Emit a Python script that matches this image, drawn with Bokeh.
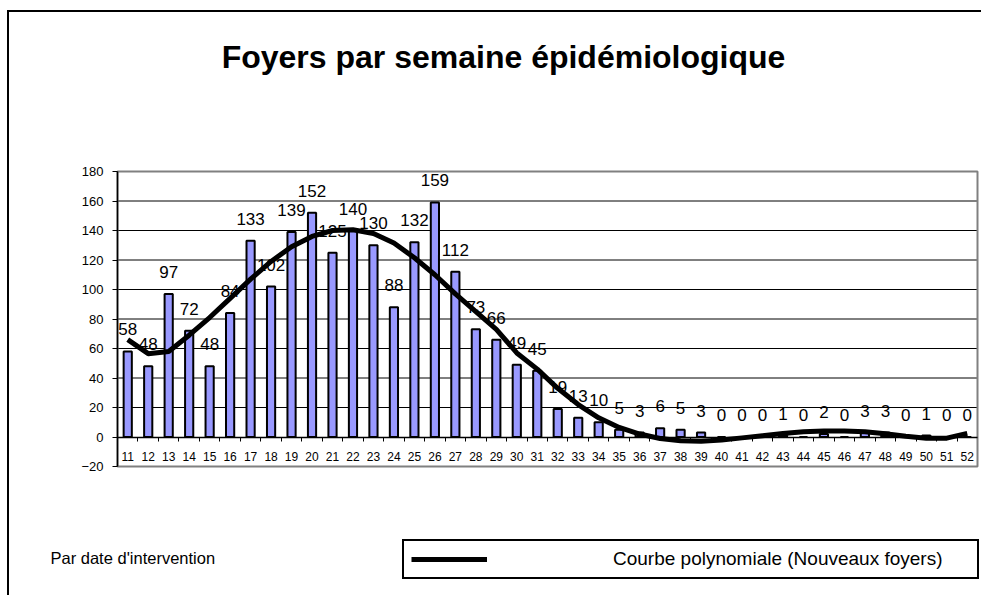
from bokeh.plotting import figure
from bokeh.models import FixedTicker, Legend, LegendItem, ColumnDataSource, Range1d, Label
from bokeh.core.properties import value
from bokeh.embed import file_html
from bokeh.resources import INLINE

# ---- data ----
weeks = [11, 12, 13, 14, 15, 16, 17, 18, 19, 20, 21, 22, 23, 24, 25, 26, 27, 28, 29, 30, 31,
         32, 33, 34, 35, 36, 37, 38, 39, 40, 41, 42, 43, 44, 45, 46, 47, 48, 49, 50, 51, 52]
new_foci = [58, 48, 97, 72, 48, 84, 133, 102, 139, 152, 125, 140, 130, 88, 132, 159, 112, 73, 66, 49, 45,
            19, 13, 10, 5, 3, 6, 5, 3, 0, 0, 0, 1, 0, 2, 0, 3, 3, 0, 1, 0, 0]
# polynomial trend curve at each week
trend = [66, 56.5, 58, 69, 81, 94, 107, 119, 129, 136, 140, 140.5, 138, 131.5, 121.5, 110, 97, 85, 73, 57, 46,
         33, 22, 13, 6.5, 2, -1, -2.5, -2.8, -2, -0.6, 0.8, 2.3, 3.5, 4, 4, 3.5, 2.2, 0.5, -0.8, -0.8, 2.5]
y_ticks = [-20, 0, 20, 40, 60, 80, 100, 120, 140, 160, 180]

title_text = "Foyers par semaine épidémiologique"
note_text = "Par date d'intervention"
legend_text = "Courbe polynomiale (Nouveaux foyers)"

FONT = "Liberation Sans"

# ---- layout (pixels) ----
W, H = 972, 583                 # canvas = frame
PA_L, PA_R, PA_T, PA_B = 108, 4, 159, 129   # margins of the plot area inside the frame
x_lo, x_hi = weeks[0] - 0.5, weeks[-1] + 0.5
y_lo, y_hi = y_ticks[0], y_ticks[-1]
ppx = (W - PA_L - PA_R) / (x_hi - x_lo)
ppy = (H - PA_T - PA_B) / (y_hi - y_lo)

src = ColumnDataSource(dict(week=weeks, n=new_foci, lab=[str(v) for v in new_foci]))
tsrc = ColumnDataSource(dict(week=weeks, t=trend))
gsrc = ColumnDataSource(dict(y=y_ticks[2:-1]))

p = figure(frame_width=W, frame_height=H,
           x_range=Range1d(x_lo - PA_L / ppx, x_hi + PA_R / ppx),
           y_range=Range1d(y_lo - PA_B / ppy, y_hi + PA_T / ppy),
           output_backend="svg", toolbar_location=None,
           min_border_left=0, min_border_right=0, min_border_top=0, min_border_bottom=0)
p.styles = {"border-left": "2px solid black", "border-top": "2px solid black",
            "margin-top": "10px", "margin-left": "7px"}

p.background_fill_color = "white"
p.border_fill_color = "white"
p.outline_line_color = None
p.xgrid.visible = False
p.ygrid.visible = False

# horizontal grid lines across the plot area
p.segment(x0=x_lo, x1=x_hi, y0="y", y1="y", source=gsrc, line_color="black", line_width=1)

# y axis at the left edge of the plot area
p.yaxis.fixed_location = x_lo
p.yaxis.bounds = (y_lo, y_hi)
p.yaxis.ticker = FixedTicker(ticks=y_ticks)
p.yaxis.axis_line_color = "black"
p.yaxis.axis_line_width = 1.5
p.yaxis.major_tick_line_color = "black"
p.yaxis.major_tick_out = 5
p.yaxis.major_tick_in = 0
p.yaxis.minor_tick_line_color = None
p.yaxis.major_label_text_font = FONT
p.yaxis.major_label_text_font_size = "13px"
p.yaxis.major_label_text_color = "black"
p.yaxis.major_label_standoff = 9

# x axis crossing at 0
boundaries = [w + 0.5 for w in weeks[:-1]]
p.xaxis.fixed_location = 0
p.xaxis.bounds = (x_lo, x_hi)
p.xaxis.ticker = FixedTicker(ticks=weeks, minor_ticks=boundaries)
p.xaxis.axis_line_color = "black"
p.xaxis.axis_line_width = 1.5
p.xaxis.major_tick_line_color = None
p.xaxis.major_tick_out = 0
p.xaxis.major_tick_in = 0
p.xaxis.minor_tick_line_color = "black"
p.xaxis.minor_tick_out = 4
p.xaxis.minor_tick_in = 0
p.xaxis.major_label_text_font = FONT
p.xaxis.major_label_text_font_size = "12px"
p.xaxis.major_label_text_color = "black"
p.xaxis.major_label_standoff = 11

# bars
p.vbar(x="week", top="n", bottom=0, width=0.4, source=src,
       fill_color="#9999FF", line_color="black", line_width=2)

# trend curve
curve = p.line(x="week", y="t", source=tsrc, line_color="black", line_width=5, line_join="round")

# grey border of the plot area
p.quad(left=x_lo, right=x_hi, bottom=y_lo, top=y_hi, fill_alpha=0,
       line_color="#808080", line_width=2)

# value labels
p.text(x="week", y="n", text="lab", source=src, text_align="center", text_baseline="alphabetic",
       y_offset=-22, text_font_size="17px", text_color="black", text_font=value(FONT))

# title (screen units from the frame's bottom-left)
p.add_layout(Label(x=494, y=H - 44, x_units="screen", y_units="screen", text=title_text,
                   text_align="center", text_baseline="alphabetic", text_font=FONT,
                   text_font_style="bold", text_font_size="32px", text_color="black"))

# note under the chart
p.add_layout(Label(x=41, y=38, x_units="screen", y_units="screen", text=note_text,
                   text_align="left", text_baseline="middle", text_font=FONT,
                   text_font_size="16.5px", text_color="black"))

# legend (trend line only)
legend = Legend(items=[LegendItem(label=legend_text, renderers=[curve])],
                location=(393, 16), margin=0, padding=7,
                glyph_width=76, glyph_height=20, label_standoff=126, label_width=357,
                label_text_font=FONT, label_text_font_size="19px", label_text_color="black",
                border_line_color="black", border_line_width=2, border_line_alpha=1,
                background_fill_color="white", background_fill_alpha=1)
p.add_layout(legend, "center")

open("out.html", "w").write(file_html(p, INLINE))
